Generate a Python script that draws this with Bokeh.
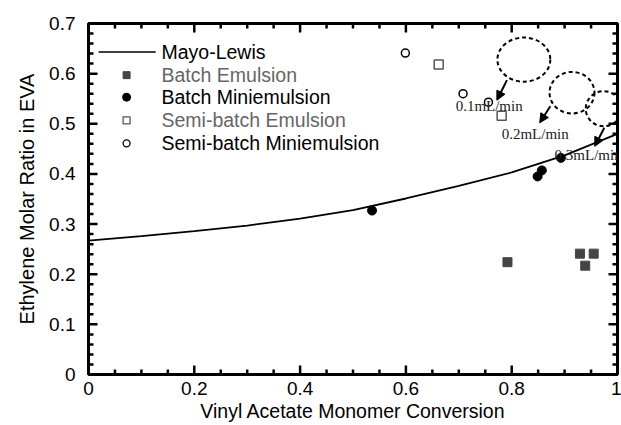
import numpy as np
from bokeh.plotting import figure
from bokeh.models import (Range1d, LinearAxis, FixedTicker, Arrow, NormalHead,
                          Label, ColumnDataSource)
from bokeh.embed import file_html
from bokeh.resources import INLINE
from bokeh.core.properties import value

# ---- data ----
curve_x = [0.0, 0.1, 0.2, 0.3, 0.4, 0.5, 0.6, 0.7, 0.8, 0.9, 1.0]
curve_y = [0.267, 0.276, 0.286, 0.297, 0.311, 0.328, 0.351, 0.376, 0.403, 0.437, 0.480]

be_x = [0.792, 0.929, 0.955, 0.939]
be_y = [0.224, 0.241, 0.241, 0.217]

bm_x = [0.536, 0.849, 0.857, 0.893]
bm_y = [0.327, 0.395, 0.407, 0.432]

se_x = [0.662, 0.781]
se_y = [0.618, 0.516]

sm_x = [0.599, 0.708, 0.756]
sm_y = [0.641, 0.560, 0.543]

rate_labels = ["0.1mL/min", "0.2mL/min", "0.3mL/min"]
rate_label_x = [0.694, 0.781, 0.881]
rate_label_y = [0.535, 0.479, 0.437]
ellipse_x = [0.823, 0.914, 0.974]
ellipse_y = [0.628, 0.562, 0.530]
ellipse_w = [0.100, 0.085, 0.068]
ellipse_h = [0.088, 0.083, 0.070]
arrow_x0 = [0.791, 0.873, 0.975]
arrow_y0 = [0.587, 0.535, 0.492]
arrow_x1 = [0.772, 0.853, 0.957]
arrow_y1 = [0.547, 0.502, 0.455]

legend_labels = ["Mayo-Lewis", "Batch Emulsion", "Batch Miniemulsion",
                 "Semi-batch Emulsion", "Semi-batch Miniemulsion"]
legend_text_colors = ["black", "#666666", "black", "#666666", "black"]
legend_y = [0.643, 0.597, 0.553, 0.507, 0.461]

x_major = [0.0, 0.2, 0.4, 0.6, 0.8, 1.0]
y_major = [0.0, 0.1, 0.2, 0.3, 0.4, 0.5, 0.6, 0.7]
x_minor = [float(round(v, 2)) for v in np.arange(0.05, 1.0, 0.05) if round(v, 2) not in x_major]
y_minor = [float(round(v, 2)) for v in np.arange(0.02, 0.7, 0.02) if round(v, 2) not in y_major]

x_title = "Vinyl Acetate Monomer Conversion"
y_title = "Ethylene Molar Ratio in EVA"

FONT = "Liberation Sans"
X0, X1, Y0, Y1 = 0.0, 1.0, 0.0, 0.7
FRAME_W, FRAME_H = 529, 351
INK = "black"
FW = 3      # frame line width
TW = 2.5    # tick line width

p = figure(width=621, height=425, x_range=Range1d(X0, X1), y_range=Range1d(Y0, Y1),
           output_backend="svg", toolbar_location=None,
           min_border_left=88, min_border_right=4, min_border_top=23, min_border_bottom=51,
           x_axis_location=None, y_axis_location=None)
p.grid.visible = False
p.outline_line_color = INK
p.outline_line_width = FW
p.background_fill_color = None
p.border_fill_color = "white"


def style_axis(ax, ticks, tick_size, title_size):
    ax.ticker = FixedTicker(ticks=ticks)
    ax.axis_line_color = INK
    ax.axis_line_width = 1.5
    ax.major_tick_in = 0
    ax.major_tick_out = 0
    ax.minor_tick_in = 0
    ax.minor_tick_out = 0
    ax.major_label_text_font = FONT
    ax.major_label_text_font_size = tick_size
    ax.major_label_text_color = "black"
    ax.axis_label_text_font = FONT
    ax.axis_label_text_font_size = title_size
    ax.axis_label_text_font_style = "normal"
    ax.axis_label_text_color = "black"


xb = LinearAxis(axis_label=x_title)
style_axis(xb, x_major, "19px", "19.5px")
xb.major_label_standoff = 7
xb.axis_label_standoff = 2
xb.major_label_overrides = {0: "0", 1: "1"}
p.add_layout(xb, "below")

yl = LinearAxis(axis_label=y_title)
style_axis(yl, y_major, "19px", "20px")
yl.major_label_standoff = 13
yl.axis_label_standoff = 8
yl.major_label_overrides = {0: "0"}
p.add_layout(yl, "left")

# ---- tick marks on all four sides, inside the frame ----
dx_major = 9 / FRAME_W * (X1 - X0)
dx_minor = 5 / FRAME_W * (X1 - X0)
dy_major = 9 / FRAME_H * (Y1 - Y0)
dy_minor = 5 / FRAME_H * (Y1 - Y0)
for ticks, d in ((y_major, dx_major), (y_minor, dx_minor)):
    p.segment(x0=[X0] * len(ticks), y0=ticks, x1=[X0 + d] * len(ticks), y1=ticks,
              line_color=INK, line_width=TW)
    p.segment(x0=[X1] * len(ticks), y0=ticks, x1=[X1 - d] * len(ticks), y1=ticks,
              line_color=INK, line_width=TW)
for ticks, d in ((x_major, dy_major), (x_minor, dy_minor)):
    p.segment(x0=ticks, y0=[Y0] * len(ticks), x1=ticks, y1=[Y0 + d] * len(ticks),
              line_color=INK, line_width=TW)
    p.segment(x0=ticks, y0=[Y1] * len(ticks), x1=ticks, y1=[Y1 - d] * len(ticks),
              line_color=INK, line_width=TW)

# ---- data glyphs ----
p.line(curve_x, curve_y, line_color="black", line_width=1.8)
p.scatter(be_x, be_y, marker="square", size=9, fill_color="#444444", line_color="#444444")
p.scatter(bm_x, bm_y, marker="circle", size=9, fill_color="black", line_color="black")
p.scatter(se_x, se_y, marker="square", size=9, fill_color="white", line_color="#555555",
          line_width=1.5)
p.scatter(sm_x, sm_y, marker="circle", size=8, fill_color="white", line_color="black",
          line_width=1.5)

# ---- annotations ----
p.ellipse(ellipse_x, ellipse_y, width=ellipse_w, height=ellipse_h, fill_color=None,
          line_color="black", line_width=2, line_dash="4 3")
arrow_src = ColumnDataSource(dict(x0=arrow_x0, y0=arrow_y0, x1=arrow_x1, y1=arrow_y1))
p.add_layout(Arrow(end=NormalHead(size=9, fill_color="black", line_color="black"),
                   x_start="x0", y_start="y0", x_end="x1", y_end="y1",
                   line_color="black", line_width=2, source=arrow_src))
p.text(rate_label_x, rate_label_y, text=rate_labels, text_font=value("Liberation Serif"),
       text_font_size="15px", text_color="#222222", text_baseline="middle", text_align="left")

# ---- hand-drawn legend ----
p.line([0.019, 0.127], [legend_y[0], legend_y[0]], line_color="black", line_width=1.5)
p.scatter([0.072], [legend_y[1]], marker="square", size=7, fill_color="#444444",
          line_color="#444444")
p.scatter([0.072], [legend_y[2]], marker="circle", size=8, fill_color="black",
          line_color="black")
p.scatter([0.072], [legend_y[3]], marker="square", size=7, fill_color="white",
          line_color="#555555", line_width=1.3)
p.scatter([0.072], [legend_y[4]], marker="circle", size=7, fill_color="white",
          line_color="black", line_width=1.3)
for lab, col, ly in zip(legend_labels, legend_text_colors, legend_y):
    p.add_layout(Label(x=0.138, y=ly, text=lab, text_font=FONT, text_font_size="19.5px",
                       text_color=col, text_baseline="middle"))

open("out.html", "w").write(file_html(p, INLINE))
